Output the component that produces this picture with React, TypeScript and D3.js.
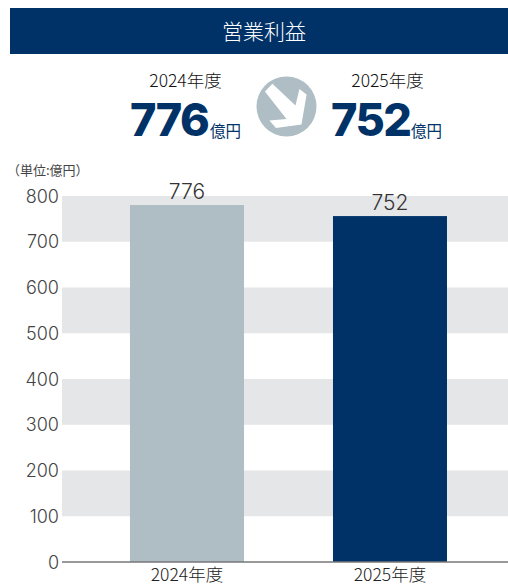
import React from "react";
import * as d3 from "d3";

const categories = ["2024年度", "2025年度"];
const values = [776, 752];
const barColors = ["#afbdc4", "#003268"];
const yTicks = [0, 100, 200, 300, 400, 500, 600, 700, 800];
const bandStarts = [100, 300, 500, 700];
const bandSize = 100;
const title = "営業利益";
const unitLabel = "（単位:億円）";
const unitSuffix = "億円";

const W = 508, H = 584;
const FONT = "'Noto Sans CJK JP','Noto Sans',sans-serif";
const NUM = "Inter,'Noto Sans',sans-serif";

const y = d3.scaleLinear().domain([0, 800]).range([562, 196]);
// the reference's bars stand slightly taller than its gridded axis
const barY = d3.scaleLinear().domain([0, 800]).range([562, 194]);
const x = d3.scaleBand().domain(categories).range([62, 508]).paddingInner(89 / 203).paddingOuter(64.5 / 203).align(0.527);

const arrow: [number, number][] = [
  [-0.72, -0.5], [-0.47, -0.76], [0.3, -0.03], [0.43, -0.58], [0.67, -0.4], [0.5, 0.6], [-0.35, 0.72], [-0.57, 0.47], [0.0, 0.42],
];

export default function App() {
  const cx = 286.5, cy = 106.5, r = 30;
  const line = d3.line().x(d => cx + d[0] * r).y(d => cy + d[1] * r);
  return (
    <svg width={W} height={H} style={{ position: "absolute", left: 0, top: 0, display: "block" }} viewBox={`0 0 ${W} ${H}`}>
      <rect x={10} y={8} width={498} height={46} fill="#003268" />
      <text x={264} y={39} textAnchor="middle" fontFamily={FONT} fontSize={21} fill="#fff" fontWeight={300}>{title}</text>

      {categories.map((c, i) => {
        const center = [185.5, 387.5][i];
        const nx = [130, 331][i];
        return (
          <g key={c}>
            <text x={center} y={87} textAnchor="middle" fontFamily={FONT} fontSize={17.5} fontWeight={300} fill="#111">{c}</text>
            <text x={nx} y={136} fontFamily={NUM} fontSize={45} fontWeight={800} fill="#003268" letterSpacing={-1.6}>{values[i]}</text>
            <text x={nx + 80} y={136.5} fontFamily={FONT} fontSize={15.5} fill="#003268">{unitSuffix}</text>
          </g>
        );
      })}

      <circle cx={cx} cy={cy} r={r} fill="#afbdc4" />
      <path d={line(arrow) + "Z"} fill="#fff" />

      <text x={7} y={175} fontFamily={FONT} fontSize={13} fill="#444">{unitLabel}</text>

      {bandStarts.map(b => (
        <rect key={b} x={62} width={446} y={y(b + bandSize)} height={y(b) - y(b + bandSize)} fill="#e5e6e8" />
      ))}
      {categories.map((c, i) => {
        const top = barY(values[i]);
        const mid = x(c)! + x.bandwidth() / 2;
        return (
          <g key={c}>
            <rect x={x(c)} width={x.bandwidth()} y={top} height={y(0) - top} fill={barColors[i]} />
            <text x={mid} y={top - 6} textAnchor="middle" fontFamily={NUM} fontSize={21} fontWeight={300} fill="#333">{values[i]}</text>
            <text x={mid} y={581} textAnchor="middle" fontFamily={FONT} fontSize={17.5} fontWeight={300} fill="#222">{c}</text>
          </g>
        );
      })}
      <line x1={62} x2={508} y1={y(0)} y2={y(0)} stroke="#777" strokeWidth={1.5} />
      {yTicks.map(t => (
        <text key={t} x={59} y={y(t) + 6.5} textAnchor="end" fontFamily={NUM} fontSize={18} fontWeight={350} fill="#444">{t}</text>
      ))}
    </svg>
  );
}
